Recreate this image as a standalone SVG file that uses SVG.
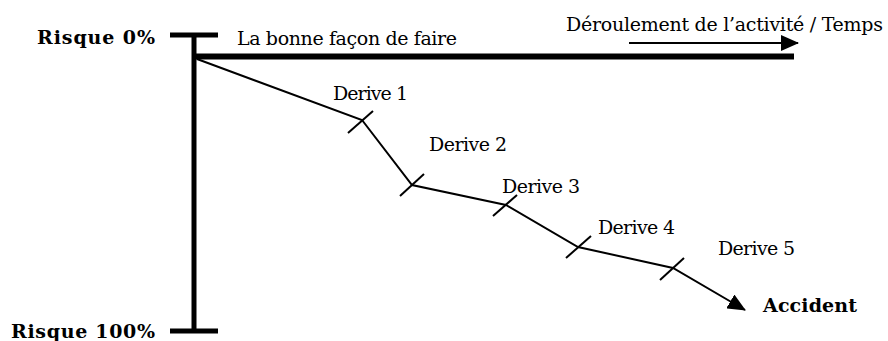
<svg xmlns="http://www.w3.org/2000/svg" width="888" height="341" viewBox="0 0 888 341">
<style>
.t{font-family:"DejaVu Serif","Liberation Serif",serif;font-size:19px;fill:#000}
.b{font-family:"DejaVu Serif","Liberation Serif",serif;font-size:19px;font-weight:bold;fill:#000}
.thick{stroke:#000;fill:none}
.thin{stroke:#000;stroke-width:2;fill:none}
</style>
<defs>
<marker id="ah2" markerWidth="18" markerHeight="16" refX="17" refY="8" orient="auto" markerUnits="userSpaceOnUse" viewBox="0 0 18 16">
<path d="M0,0 L18,8 L0,16 Z" fill="#000"/>
</marker>
</defs>
<g id="axes">
<line class="thick" x1="170" y1="35" x2="218" y2="35" stroke-width="5"/>
<line class="thick" x1="194" y1="33" x2="194" y2="333" stroke-width="5"/>
<line class="thick" x1="170" y1="331" x2="218" y2="331" stroke-width="5"/>
<line class="thick" x1="192" y1="56.5" x2="794" y2="56.5" stroke-width="6"/>
</g>
<g id="connectors">
<line class="thin" x1="629" y1="43" x2="798" y2="43" marker-end="url(#ah2)"/>
<polyline class="thin" points="197,59 362,120 412,185 506,205 578,247 673,268 745,310" marker-end="url(#ah2)"/>
<line class="thin" x1="348" y1="133" x2="373" y2="111"/>
<line class="thin" x1="400" y1="196" x2="424" y2="174"/>
<line class="thin" x1="493" y1="216" x2="517" y2="195"/>
<line class="thin" x1="566" y1="258" x2="591" y2="236"/>
<line class="thin" x1="660" y1="280" x2="684" y2="258"/>
</g>
<g id="labels">
<text class="b" x="37" y="44" textLength="118">Risque  0%</text>
<text class="b" x="11" y="338" textLength="144">Risque  100%</text>
<text class="t" x="237" y="45" textLength="220">La bonne façon de faire</text>
<text class="t" x="566" y="31" textLength="317">Déroulement de l’activité / Temps</text>
<text class="t" x="333" y="100" textLength="75">Derive 1</text>
<text class="t" x="429" y="151" textLength="78">Derive 2</text>
<text class="t" x="502" y="193" textLength="78">Derive 3</text>
<text class="t" x="598" y="234" textLength="77">Derive 4</text>
<text class="t" x="718" y="255" textLength="77">Derive 5</text>
<text class="b" x="763" y="312" textLength="94">Accident</text>
</g>
</svg>
